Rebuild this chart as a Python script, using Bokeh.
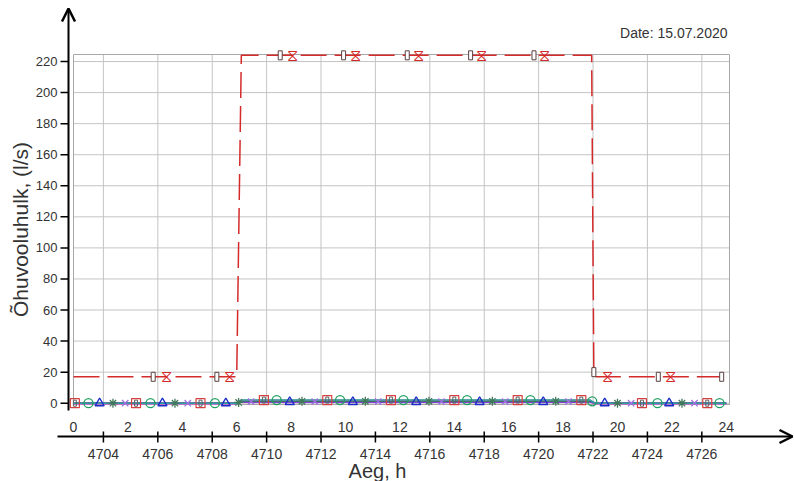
import math
from bokeh.plotting import figure
from bokeh.models import Range1d, Arrow, OpenHead
from bokeh.core.properties import value
from bokeh.embed import file_html
from bokeh.resources import INLINE

# ---- data -------------------------------------------------------------
# hour of day (upper scale) and hour of year (lower scale)
YEAR_HOUR_AT_MIDNIGHT = 4702.9

day_ticks = [0, 2, 4, 6, 8, 10, 12, 14, 16, 18, 20, 22, 24]
year_ticks = [4704, 4706, 4708, 4710, 4712, 4714, 4716, 4718, 4720, 4722, 4724, 4726]
flow_ticks = [0, 20, 40, 60, 80, 100, 120, 140, 160, 180, 200, 220]

# supply air flow, l/s (two units on the same schedule)
supply_h = [0, 6.0, 6.17, 19.05, 19.13, 19.2, 24]
supply_q = [17, 17, 224, 224, 20, 17, 17]

supply_a_mark_h = [2.93, 5.27, 7.6, 9.93, 12.27, 14.6, 16.93, 19.13, 21.5, 23.83]
supply_a_mark_q = [17, 17, 224, 224, 224, 224, 224, 20, 17, 17]

supply_b_mark_h = [3.42, 5.72, 8.06, 10.36, 12.7, 15.0, 17.3, 19.65, 21.94]
supply_b_mark_q = [17, 17, 224, 224, 224, 224, 224, 17, 17]

# small flows near zero
low_h = [0, 6.0, 6.17, 19.0, 19.17, 24]
sq_q = [0, 0, 2.0, 2.0, 0, 0]
circ_q = [0, 0, 2.0, 2.0, 0, 0]
tri_q = [0, 0, 0.8, 0.8, 0, 0]
ast_q = [0, 0, 1.2, 1.2, 0, 0]
x_q = [0, 0, 1.0, 1.0, 0, 0]

sq_mark_h = [0.05, 2.3, 4.67, 7.0, 9.33, 11.67, 14.0, 16.33, 18.67, 20.9, 23.3]
sq_mark_q = [0, 0, 0, 2.0, 2.0, 2.0, 2.0, 2.0, 2.0, 0, 0]
circ_mark_h = [0.55, 2.83, 5.2, 7.47, 9.8, 12.13, 14.47, 16.8, 19.07, 21.47, 23.75]
circ_mark_q = [0, 0, 0, 2.0, 2.0, 2.0, 2.0, 2.0, 1.2, 0, 0]
tri_mark_h = [0.96, 3.27, 5.6, 7.95, 10.27, 12.6, 14.93, 17.27, 19.53, 21.9]
tri_mark_q = [0, 0, 0, 0.8, 0.8, 0.8, 0.8, 0.8, 0, 0]
ast_mark_h = [1.45, 3.73, 6.07, 8.4, 10.73, 13.07, 15.4, 17.73, 20.0, 22.37]
ast_mark_q = [0, 0, 0.5, 1.2, 1.2, 1.2, 1.2, 1.2, 0, 0]
x_mark_h = [1.9, 4.2, 6.53, 8.87, 11.2, 13.53, 15.87, 18.2, 20.5, 22.83]
x_mark_q = [0, 0, 1.0, 1.0, 1.0, 1.0, 1.0, 1.0, 0, 0]

# ---- canvas geometry --------------------------------------------------
W, H = 794, 481
PX_H = 27.2          # pixels per hour
PX_Q = 1.553         # pixels per l/s
ORG_X, ORG_Y = 73, 402.7   # pixel position of (0 h, 0 l/s)


def hx(px):
    return (px - ORG_X) / PX_H


def qy(py):
    return (ORG_Y - py) / PX_Q


FONT = "Liberation Sans"
TXT = "#333333"
GRID = "#c4c4c4"
RED = "#d42a2a"

p = figure(width=W, height=H, x_range=Range1d(hx(0), hx(W)), y_range=Range1d(qy(H), qy(0)),
           x_axis_location=None, y_axis_location=None, min_border=0,
           output_backend="svg", toolbar_location=None)
p.outline_line_color = None
p.grid.visible = False
p.extra_x_ranges = {"year": Range1d(hx(0) + YEAR_HOUR_AT_MIDNIGHT, hx(W) + YEAR_HOUR_AT_MIDNIGHT)}

BOX_R, BOX_B, BOX_T = hx(729), qy(404), qy(54)

# plot box and grid
p.segment(x0=0, x1=BOX_R, y0=flow_ticks, y1=flow_ticks, line_color=GRID, line_width=1)
p.segment(x0=year_ticks, x1=year_ticks, y0=BOX_B, y1=BOX_T, line_color=GRID, line_width=1,
          x_range_name="year")
p.quad(left=0, right=BOX_R, bottom=BOX_B, top=BOX_T, fill_color=None, line_color="#a8a8a8")

# near-zero flows
p.line(low_h, x_q, line_color="#d93ad9", line_width=2.5)
p.line(low_h, tri_q, line_color="#3a4ad8", line_width=1.2)
p.line(low_h, sq_q, line_color="#e05050", line_width=1)
p.line(low_h, ast_q, line_color="#40785a", line_width=1)
p.line(low_h, circ_q, line_color="#2aa2a8", line_width=1.5)

p.scatter(sq_mark_h, sq_mark_q, marker="square", size=9, fill_color=None,
          line_color="#d84040", line_width=1.2)
p.rect(sq_mark_h, sq_mark_q, width=3, height=6, width_units="screen", height_units="screen",
       fill_color=None, line_color="#606060")
p.scatter(circ_mark_h, circ_mark_q, marker="circle", size=9, fill_color=None,
          line_color="#1fa060", line_width=1.3)
p.scatter(tri_mark_h, tri_mark_q, marker="triangle", size=9, fill_color=None,
          line_color="#1c2cc8", line_width=1.4)
p.scatter(ast_mark_h, ast_mark_q, marker="asterisk", size=9,
          line_color="#40785a", line_width=1.3)
p.scatter(x_mark_h, x_mark_q, marker="x", size=9,
          line_color="#a070e0", line_width=1.3)

# supply flows
p.line(supply_h, supply_q, line_color=RED, line_width=1.5, line_dash="26 8")
p.rect(supply_a_mark_h, supply_a_mark_q, width=4, height=9, width_units="screen",
       height_units="screen", fill_color="white", line_color="#5a4040", line_width=1)
p.text(supply_b_mark_h, supply_b_mark_q, text=value("\u29d6"), text_color=RED,
       text_font=value("DejaVu Sans"), text_font_size="16px",
       text_align="center", text_baseline="middle")

# vertical axis: line, ticks, labels, title
p.add_layout(Arrow(end=OpenHead(size=13, line_width=2.5, line_color="black"),
                   x_start=hx(68), y_start=qy(410), x_end=hx(68), y_end=qy(8),
                   line_color="black", line_width=2))
p.segment(x0=hx(60), x1=hx(68), y0=flow_ticks, y1=flow_ticks, line_color="black", line_width=1.5)
p.text(x=hx(57), y=flow_ticks, text=[str(t) for t in flow_ticks], text_align="right",
       text_baseline="middle", text_font=value(FONT), text_font_size="13px", text_color=TXT)
p.text(x=[hx(20)], y=[qy(229)], text=["Õhuvooluhulk, (l/s)"], angle=math.pi / 2,
       text_align="center", text_baseline="middle", text_font=value(FONT),
       text_font_size="21px", text_color=TXT)

# horizontal axis: line, ticks, two label rows, title
p.add_layout(Arrow(end=OpenHead(size=13, line_width=2.5, line_color="black"),
                   x_start=hx(57), y_start=qy(436), x_end=hx(792), y_end=qy(436),
                   line_color="black", line_width=2))
p.segment(x0=year_ticks, x1=year_ticks, y0=qy(431), y1=qy(442), line_color="black",
          line_width=1.5, x_range_name="year")
p.text(x=year_ticks, y=qy(453), text=[str(t) for t in year_ticks], x_range_name="year",
       text_align="center", text_baseline="middle", text_font=value(FONT),
       text_font_size="14px", text_color=TXT)
p.text(x=day_ticks, y=qy(426), text=[str(t) for t in day_ticks], text_align="center",
       text_baseline="middle", text_font=value(FONT), text_font_size="14px", text_color=TXT)
p.text(x=[hx(377)], y=[qy(470)], text=["Aeg, h"], text_align="center",
       text_baseline="middle", text_font=value(FONT), text_font_size="20px", text_color=TXT)

p.text(x=[hx(727)], y=[qy(32)], text=["Date: 15.07.2020"], text_align="right",
       text_baseline="middle", text_font=value(FONT), text_font_size="14px", text_color=TXT)

open("out.html", "w").write(file_html(p, INLINE))
